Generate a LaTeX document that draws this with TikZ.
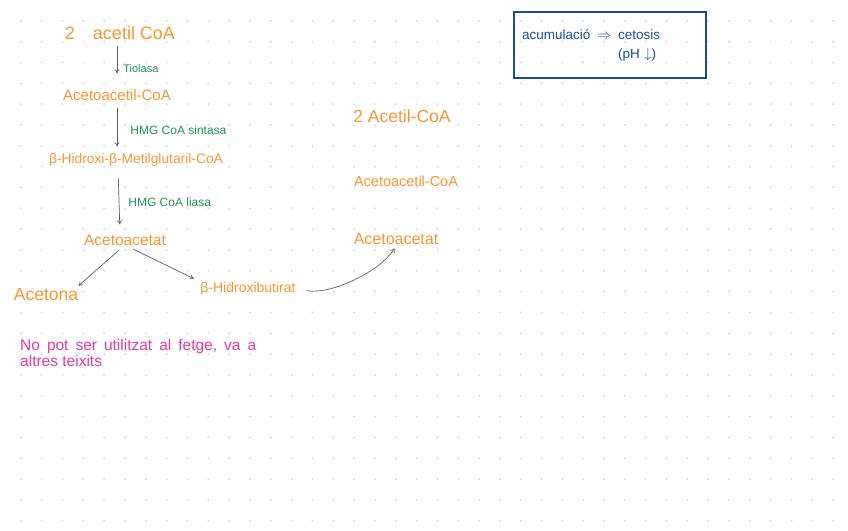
\documentclass[tikz,border=0pt]{standalone}
\usepackage{fontspec}
\setmainfont{Liberation Sans}
\usetikzlibrary{positioning,arrows.meta}
\definecolor{ChemOrange}{RGB}{247,150,50}
\definecolor{EnzGreen}{RGB}{30,150,80}
\definecolor{NotePink}{RGB}{230,60,150}
\definecolor{BoxBlue}{RGB}{25,75,160}
\definecolor{ArrowGray}{RGB}{95,95,95}
\definecolor{DotGray}{RGB}{215,215,215}
\newcommand\widespaces{\spaceskip=7pt plus 1pt\relax}

\begin{document}
\begin{tikzpicture}[
  x=1pt, y=-1pt,
  >={To[length=4pt,width=5pt]},
  chem/.style={text=ChemOrange, font=\fontsize{15}{17}\selectfont, inner sep=1pt},
  enz/.style={text=EnzGreen, font=\fontsize{12}{14}\selectfont, inner sep=1pt},
  flow/.style={->, draw=ArrowGray, line width=0.7pt},
  note/.style={text=NotePink, font=\fontsize{15.5}{16}\selectfont, align=left, inner sep=0pt},
  alertbox/.style={draw=BoxBlue, line width=2.4pt, text=BoxBlue,
    font=\fontsize{13.5}{19}\selectfont, align=left,
    minimum width=192pt, minimum height=66pt, inner xsep=7pt, text width=176pt}
]
\useasboundingbox[fill=white] (0,0) rectangle (848,530);

% --- dot grid ---
\foreach \i in {1,...,40}
  \foreach \j in {1,...,25}
    \fill[DotGray] (\i*20.83,\j*20.83) circle (1);

% --- ketogenesis, left column ---
\node[chem, font=\fontsize{18}{20}\selectfont] (acet1) at (120,33) {2\quad acetil CoA};
\node[chem] (aacoa) at (117,95) {Acetoacetil-CoA};
\node[chem, font=\fontsize{13.8}{16}\selectfont] (hmg) at (136,160) {β-Hidroxi-β-Metilglutaril-CoA};
\node[chem, font=\fontsize{15.5}{18}\selectfont] (aac) at (125,240) {Acetoacetat};
\node[chem, font=\fontsize{17.5}{19}\selectfont] (acetona) at (46,295) {Acetona};
\node[chem, font=\fontsize{14}{16}\selectfont] (bhb) at (248,289) {β-Hidroxibutirat};

\draw[flow, shorten <=5pt, shorten >=15pt] (acet1.south -| aacoa.north) -- (aacoa.north)
  node[enz, font=\fontsize{11}{13}\selectfont, midway, right=5pt, yshift=-4pt] (tiol) {Tiolasa};
\draw[flow, shorten <=6pt, shorten >=6pt] (aacoa.south) -- (aacoa.south |- hmg.north)
  node[enz, midway, right=12pt, yshift=-3pt] (sint) {HMG CoA sintasa};
\draw[flow, shorten <=10pt, shorten >=9pt] ([xshift=-18pt]hmg.south) -- ([xshift=-5pt]aac.north)
  node[enz, midway, right=8pt, yshift=-2pt] (lias) {HMG CoA liasa};

\draw[flow, shorten <=6pt, shorten >=3pt] ([xshift=-2pt]aac.south) -- ([xshift=-3pt]acetona.north east);
\draw[flow, shorten <=6pt, shorten >=6pt] ([xshift=3pt]aac.south) -- (bhb.north west);

% --- right column ---
\node[chem, font=\fontsize{17.5}{19}\selectfont] (r1) at (402,116) {2 Acetil-CoA};
\node[chem, font=\fontsize{14.5}{17}\selectfont] (r2) at (406,181) {Acetoacetil-CoA};
\node[chem, font=\fontsize{16}{18}\selectfont] (r3) at (396,239) {Acetoacetat};

\draw[flow, shorten <=10pt, shorten >=3pt] (bhb.east) .. controls +(35,6) and +(-15,25) .. (r3.south);

% --- note ---
\node[note, anchor=north west] (fetge) at (20,339) {\widespaces No pot ser utilitzat al fetge, va a\\altres teixits};

% --- box ---
\node[alertbox] (cetosi) at (610,45) {acumulació\enspace$\Rightarrow$\enspace cetosis\\\phantom{acumulació\enspace$\Rightarrow$\enspace}(pH $\downarrow$)};

\end{tikzpicture}
\end{document}
